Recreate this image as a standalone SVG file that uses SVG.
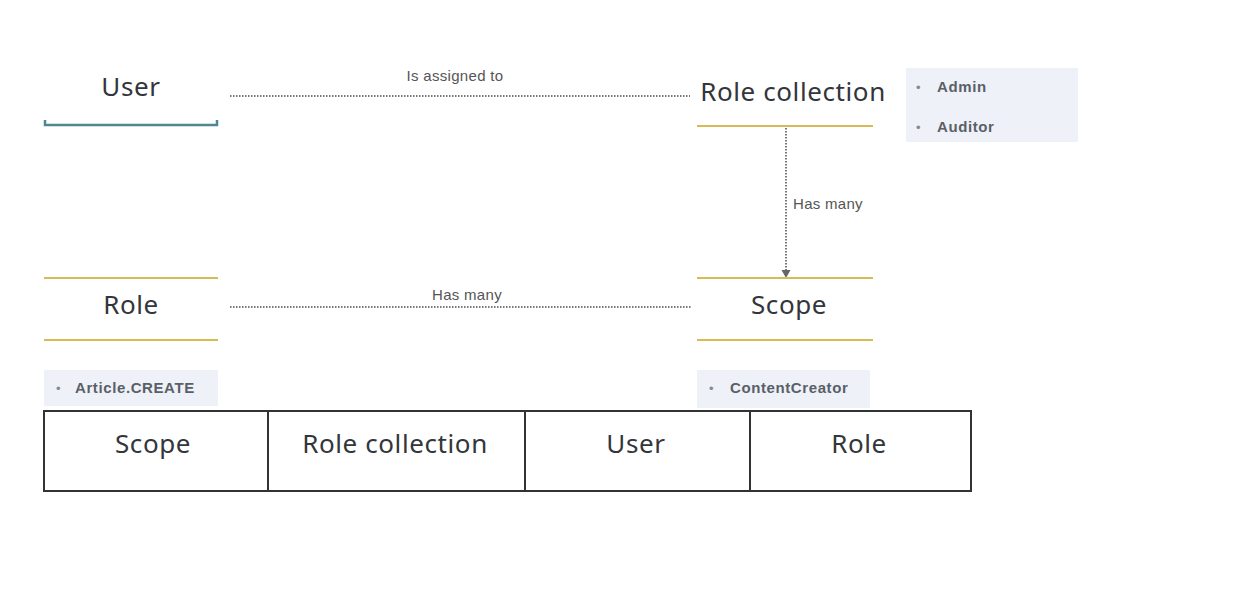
<svg xmlns="http://www.w3.org/2000/svg" width="1251" height="596" viewBox="0 0 1251 596">
<defs>
<style>
.title{font-family:"Noto Sans","Open Sans",sans-serif;font-size:26px;letter-spacing:0.6px;fill:#33363b;text-anchor:middle}
.lbl{font-family:"Liberation Sans",Arial,sans-serif;font-size:15px;letter-spacing:0.3px;fill:#555;}
.item{font-family:"Liberation Sans",Arial,sans-serif;font-size:15px;letter-spacing:0.6px;font-weight:bold;fill:#5a5f68;}
.bul{font-family:"Liberation Sans",Arial,sans-serif;font-size:13px;fill:#888;}
.box{fill:#eef1f7}
.yl{stroke:#d8bb55;stroke-width:2}
.dot{stroke:#777;stroke-width:2;stroke-dasharray:1.5 1.5;fill:none}
.cell{fill:#fff;stroke:#333;stroke-width:2}
</style>
</defs>
<rect width="1251" height="596" fill="#fff"/>
<g id="connectors">
<line class="dot" x1="230" y1="96" x2="690" y2="96"/>
<text class="lbl" x="455" y="81" text-anchor="middle">Is assigned to</text>
<line class="dot" x1="786" y1="128" x2="786" y2="272"/>
<path d="M781.5,270 L790.5,270 L786,278 Z" fill="#666"/>
<text class="lbl" x="793" y="209">Has many</text>
<line class="dot" x1="230" y1="307" x2="692" y2="307"/>
<text class="lbl" x="467" y="300" text-anchor="middle">Has many</text>
</g>
<g id="user">
<text class="title" x="131" y="96">User</text>
<path d="M45,120 L45,125 L217,125 L217,120" fill="none" stroke="#4d8890" stroke-width="2.5"/>
</g>
<g id="role-collection">
<text class="title" x="793" y="101">Role collection</text>
<line class="yl" x1="697" y1="126" x2="873" y2="126"/>
</g>
<g id="rc-items">
<rect class="box" x="906" y="68" width="172" height="74"/>
<text class="bul" x="916" y="92">•</text>
<text class="item" x="937" y="92">Admin</text>
<text class="bul" x="916" y="132">•</text>
<text class="item" x="937" y="132">Auditor</text>
</g>
<g id="role">
<line class="yl" x1="44" y1="278" x2="218" y2="278"/>
<text class="title" x="131" y="314">Role</text>
<line class="yl" x1="44" y1="340" x2="218" y2="340"/>
</g>
<g id="scope">
<line class="yl" x1="697" y1="278" x2="873" y2="278"/>
<text class="title" x="789" y="314">Scope</text>
<line class="yl" x1="697" y1="340" x2="873" y2="340"/>
</g>
<g id="role-items">
<rect class="box" x="44" y="370" width="174" height="36"/>
<text class="bul" x="56" y="393">•</text>
<text class="item" x="75" y="393">Article.CREATE</text>
</g>
<g id="scope-items">
<rect class="box" x="697" y="370" width="173" height="38"/>
<text class="bul" x="709" y="393">•</text>
<text class="item" x="730" y="393">ContentCreator</text>
</g>
<g id="table">
<rect class="cell" x="44" y="411" width="927" height="80"/>
<line stroke="#333" stroke-width="2" x1="268" y1="411" x2="268" y2="491"/>
<line stroke="#333" stroke-width="2" x1="525" y1="411" x2="525" y2="491"/>
<line stroke="#333" stroke-width="2" x1="750" y1="411" x2="750" y2="491"/>
<text class="title" x="153" y="453">Scope</text>
<text class="title" x="395" y="453">Role collection</text>
<text class="title" x="636" y="453">User</text>
<text class="title" x="859" y="453">Role</text>
</g>
</svg>
